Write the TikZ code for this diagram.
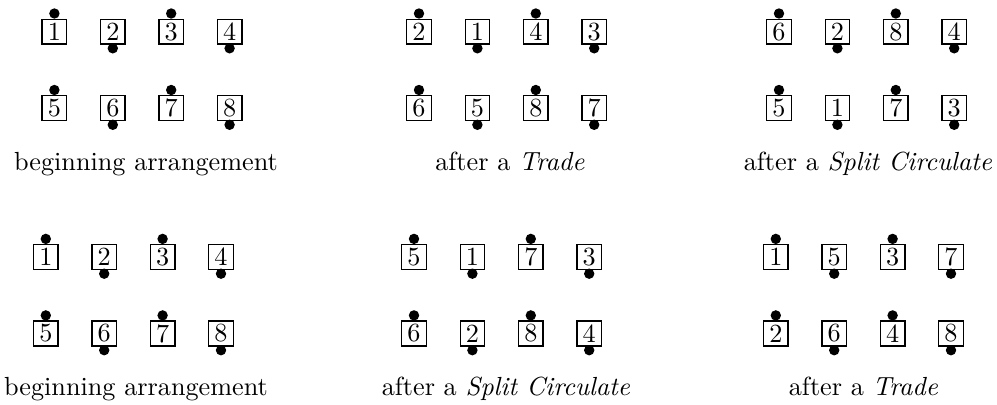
\documentclass[tikz,border=0pt]{standalone}
\begin{document}
\begin{tikzpicture}[x=0.3817pt,y=-0.3817pt,
  dancer/.style={draw,line width=0.5pt,inner sep=0pt,minimum width=9.35pt,minimum height=9.5pt},
  caption/.style={anchor=base,inner sep=0pt}]
\useasboundingbox (0,0) rectangle (997,404);
% #1,#2: centre of the first box; #3: name prefix; #4,#5: the two rows
\newcommand\dancers[5]{%
  \foreach \n [count=\i] in {#4} {
    \node[dancer] (#3-a\i) at ({#1+(\i-1)*58.4},#2) {\n};
    \ifodd\i
      \fill (#3-a\i.north) ++(0,-5) circle[radius=5.2];
    \else
      \fill (#3-a\i.south) ++(0,3.6) circle[radius=5.2];
    \fi
  }
  \foreach \n [count=\i] in {#5} {
    \node[dancer] (#3-b\i) at ({#1+(\i-1)*58.4},#2+76.5) {\n};
    \ifodd\i
      \fill (#3-b\i.north) ++(0,-5) circle[radius=5.2];
    \else
      \fill (#3-b\i.south) ++(0,3.6) circle[radius=5.2];
    \fi
  }%
}
% upper sequence
\dancers{54.4}{31.6}{ua}{1,2,3,4}{5,6,7,8}
\dancers{419}{31.6}{ub}{2,1,4,3}{6,5,8,7}
\dancers{779}{31.6}{uc}{6,2,8,4}{5,1,7,3}
\node[caption] (ula) at (146,170.5) {beginning arrangement};
\node[caption] (ulb) at (510,170.5) {after a \textit{Trade}};
\node[caption] (ulc) at (868,170.5) {after a \textit{Split Circulate}};
% lower sequence
\dancers{45.8}{257}{la}{1,2,3,4}{5,6,7,8}
\dancers{414}{257}{lb}{5,1,7,3}{6,2,8,4}
\dancers{775.8}{257}{lc}{1,5,3,7}{2,6,4,8}
\node[caption] (lla) at (136,395.8) {beginning arrangement};
\node[caption] (llb) at (506,395.8) {after a \textit{Split Circulate}};
\node[caption] (llc) at (863.5,395.8) {after a \textit{Trade}};
\end{tikzpicture}
\end{document}
